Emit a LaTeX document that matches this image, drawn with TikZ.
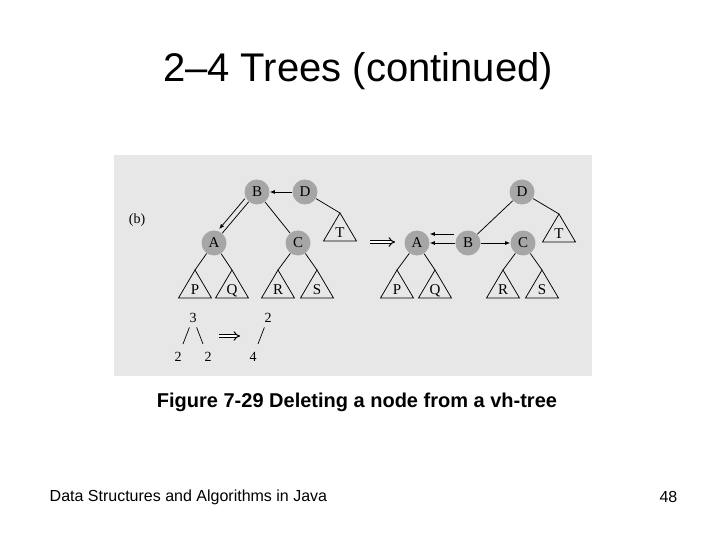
\documentclass[tikz,border=0pt]{standalone}
\usepackage{fontspec}
\setmainfont{Liberation Sans}
\newfontfamily\figfont{Liberation Serif}
\usetikzlibrary{arrows.meta,calc}
\definecolor{panelgray}{RGB}{231,231,231}
\definecolor{vtxgray}{RGB}{166,166,166}

\begin{document}
\begin{tikzpicture}[x=1pt,y=-1pt,
  line width=0.75pt,
  vtx/.style={circle,fill=vtxgray,minimum size=25pt,inner sep=0pt,font=\figfont\fontsize{15}{15}\selectfont},
  leaf/.style={inner sep=0pt,anchor=base,font=\figfont\fontsize{15}{15}\selectfont},
  num/.style={inner sep=0pt,font=\figfont\fontsize{14}{14}\selectfont},
  flow/.style={-{Latex[length=5pt,width=4pt]},line width=0.75pt},
  imp/.style={-{Implies},line width=1pt,double distance=2.2pt}
]
  \useasboundingbox (0,0) rectangle (720,540);
  \node (title) at (358,71) {\fontsize{40}{42}\selectfont 2--4 Trees (continued)};
  \fill[panelgray] (114,155) rectangle (592,376);
  \node[num] (blabel) at (137,220) {(b)};

  % tree before
  \node[vtx] (lB) at (257,192) {B};
  \node[vtx] (lD) at (305,192) {D};
  \node[vtx] (lA) at (214,243) {A};
  \node[vtx] (lC) at (298,243) {C};
  % tree after
  \node[vtx] (rD) at (522,192) {D};
  \node[vtx] (rA) at (417,243) {A};
  \node[vtx] (rB) at (468,243) {B};
  \node[vtx] (rC) at (523,243) {C};

  % subtrees
  \foreach \n/\x/\y/\t in {lP/195/270/P,lQ/232/270/Q,lR/278/270/R,lS/317/270/S,lT/340/213/T,
                          rP/397/270/P,rQ/435/270/Q,rR/503/270/R,rS/542/270/S,rT/559/214/T}{
    \coordinate (\n) at (\x,\y);
    \draw (\n) -- ++(-16.5,28) -- ++(33,0) -- cycle;
    \node[leaf] (\n-lbl) at (\x,\y+24) {\t};
  }

  \draw[flow] (lD) -- (lB);
  \draw (lB) -- (lA);
  \draw[flow,shorten <=13pt,shorten >=14pt] ($(lB)!5pt!-90:(lA)$) -- ($(lA)!5pt!90:(lB)$);
  \draw (lB) -- (lC);
  \draw (lD) -- (lT);
  \draw (lA) -- (lP);
  \draw (lA) -- (lQ);
  \draw (lC) -- (lR);
  \draw (lC) -- (lS);

  \coordinate (stepL) at (370,242);
  \coordinate (stepR) at (395,242);
  \draw[imp] (stepL) -- (stepR);

  \draw (rD) -- (rB);
  \draw (rD) -- (rT);
  \draw[flow] (rB) -- (rA);
  \draw[flow] ($(rB.west)+(-1,-9)$) -- ($(rA.east)+(0,-9)$);
  \draw[flow] (rB) -- (rC);
  \draw (rA) -- (rP);
  \draw (rA) -- (rQ);
  \draw (rC) -- (rR);
  \draw (rC) -- (rS);

  % node counts
  \node[num] (n3) at (193,318) {3};
  \node[num] (n2a) at (178,357) {2};
  \node[num] (n2b) at (208,357) {2};
  \coordinate (mergeL) at (219,336);
  \coordinate (mergeR) at (240,336);
  \draw[imp] (mergeL) -- (mergeR);
  \node[num] (m2) at (268,318) {2};
  \node[num] (m4) at (253,357) {4};
  \draw[line width=0.7pt,shorten <=10pt,shorten >=14pt] (n3.center) -- (n2a.center);
  \draw[line width=0.7pt,shorten <=10pt,shorten >=14pt] (n3.center) -- (n2b.center);
  \draw[line width=0.7pt,shorten <=10pt,shorten >=14pt] (m2.center) -- (m4.center);

  \node (caption) at (357,402) {\fontsize{20}{22}\selectfont\bfseries Figure 7-29 Deleting a node from a vh-tree};
  \node[anchor=west] (course) at (46,497) {\fontsize{16}{18}\selectfont Data Structures and Algorithms in Java};
  \node[anchor=east] (page) at (681,497) {\fontsize{16}{18}\selectfont 48};
\end{tikzpicture}
\end{document}
